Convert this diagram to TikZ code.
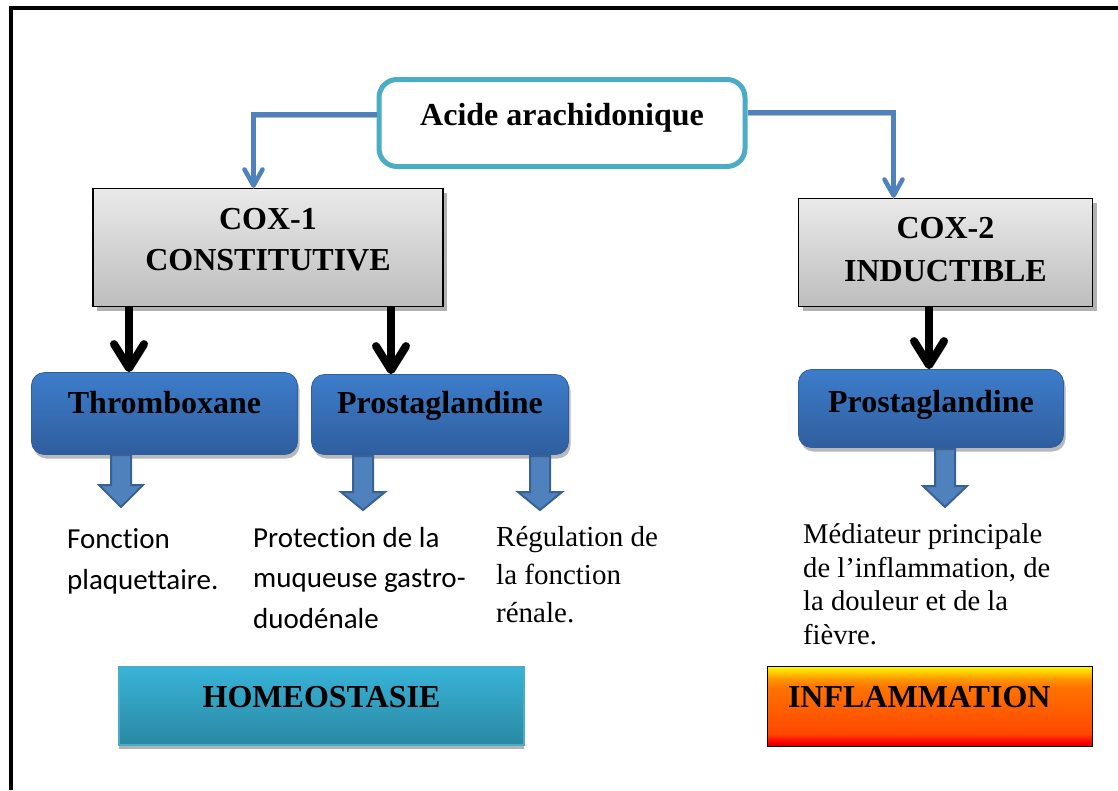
\documentclass[tikz,border=0pt]{standalone}
\usepackage{fontspec}
\setmainfont{Liberation Serif}
\newfontfamily\calibfont[Ligatures=NoCommon]{Carlito}
\usetikzlibrary{arrows.meta,shadows}

\definecolor{cyanedge}{HTML}{4BACC6}
\definecolor{linkblue}{HTML}{4F81BD}
\definecolor{coxtop}{HTML}{EAEAEA}
\definecolor{coxbot}{HTML}{BDBDBD}
\definecolor{pgtop}{HTML}{3D7DCB}
\definecolor{pgbot}{HTML}{2F5E9E}
\definecolor{arrfill}{HTML}{4F81BD}
\definecolor{arredge}{HTML}{3A6194}
\definecolor{homtop}{HTML}{38B4D8}
\definecolor{hombot}{HTML}{2A88A2}

% yellow -> orange -> red, top to bottom
\pgfdeclareverticalshading{inflamshade}{100bp}{rgb(0bp)=(.8,0,0); rgb(25bp)=(.8,0,0);
  rgb(28bp)=(1,0,0); rgb(33bp)=(1,.28,0); rgb(50bp)=(1,.38,0); rgb(62bp)=(1,.45,0);
  rgb(67bp)=(1,.58,0); rgb(71bp)=(1,.78,0); rgb(75bp)=(1,.97,0); rgb(100bp)=(1,.97,0)}

\begin{document}
\begin{tikzpicture}[x=1pt,y=-1pt,
  acidebox/.style={draw=cyanedge, line width=5pt, rounded corners=18pt, fill=white,
    minimum width=366pt, minimum height=87pt, font=\bfseries\fontsize{32}{40}\selectfont,
    text height=22pt, text depth=18pt},
  coxbox/.style={draw=black, line width=1.5pt, top color=coxtop, bottom color=coxbot,
    align=center, font=\bfseries\fontsize{32}{41}\selectfont,
    drop shadow={shadow xshift=4pt, shadow yshift=-4pt, fill=gray!60, opacity=1}},
  pgbox/.style={draw=pgbot, line width=.8pt, rounded corners=13pt, top color=pgtop,
    bottom color=pgbot, font=\bfseries\fontsize{32}{40}\selectfont, text height=22pt,
    drop shadow={shadow xshift=2pt, shadow yshift=-4pt, fill=gray!55, opacity=1}},
  endbox/.style={font=\bfseries\fontsize{32}{40}\selectfont, text height=22pt},
  note/.style={anchor=base west, align=left, inner sep=0pt},
  link/.style={draw=linkblue, line width=4.5pt, -{Straight Barb[length=16pt,width=18pt,round]},
    preaction={draw=gray!55, transform canvas={yshift=-3pt}}},
  blk/.style={draw=black, line width=8pt, -{Straight Barb[length=24pt,width=30pt,round]},
    preaction={draw=gray!60, transform canvas={shift={(3pt,-3pt)}}}},
  blockarr/.style={fill=arrfill, draw=arredge, line width=2pt}]
\useasboundingbox (0,0) rectangle (1118,790);
\draw[line width=4.5pt] (11,790) -- (11,8) -- (1118,8);

\node[acidebox] (acide) at (562,123) {Acide arachidonique};
\node[coxbox, minimum width=350pt, minimum height=118pt, text depth=16pt] (cox1) at (268,247.5) {COX-1\\CONSTITUTIVE};
\node[coxbox, minimum width=294pt, minimum height=108pt, text depth=7pt,
  font=\bfseries\fontsize{32}{43}\selectfont] (cox2) at (945.5,252.5) {COX-2\\INDUCTIBLE};

\node[pgbox, minimum width=266pt, minimum height=82pt, text depth=23pt] (thrombo) at (164.5,413.5) {Thromboxane};
\node[pgbox, minimum width=257pt, minimum height=80pt, text depth=25pt] (pg1) at (440,414.5) {Prostaglandine};
\node[pgbox, minimum width=265pt, minimum height=78pt, text depth=15pt] (pg2) at (931,408.5) {Prostaglandine};

% the base of each note is its last line
\node[note, font=\calibfont\fontsize{29}{41}\selectfont] (fonct) at (67,589) {Fonction\\plaquettaire.};
\node[note, font=\calibfont\fontsize{29}{40.5}\selectfont] (protec) at (253,628) {Protection de la\\muqueuse gastro-\\duodénale};
\node[note, font=\fontsize{29}{38}\selectfont] (regul) at (496,622) {Régulation de\\la fonction\\rénale.};
\node[note, font=\fontsize{28.6}{33.5}\selectfont] (media) at (803,644) {Médiateur principale\\de l’inflammation, de\\la douleur et de la\\fièvre.};

\node[endbox, draw=cyanedge, line width=2pt, top color=homtop, bottom color=hombot,
  minimum width=405pt, minimum height=78pt, text depth=20pt,
  drop shadow={shadow xshift=0pt, shadow yshift=-4pt, fill=gray!60, opacity=1}] (homeo) at (321.5,706) {HOMEOSTASIE};
\node[endbox, draw=black, line width=1.5pt, shading=inflamshade, minimum width=325pt,
  minimum height=80pt, text width=284pt, inner xsep=20pt, align=left, text depth=21pt] (inflam) at (930,706.5) {INFLAMMATION};

% enzymes
\draw[link] (acide.west |- 0,114.5) -| (cox1.north -| 253.5,0);
\draw[link] (acide.east |- 0,112.5) -| (cox2.north -| 893.5,0);

% products
\draw[blk] (cox1.south -| 129,0) -- (thrombo.north -| 129,0);
\draw[blk] (cox1.south -| 391,0) -- (pg1.north -| 391,0);
\draw[blk] (cox2.south -| 929,0) -- (pg2.north -| 929,0);

% effects
\foreach \x/\ya/\yb/\yc in {121/455/485/507, 363/456/492/510, 540/456/492/510, 945/449/486/507}
  \draw[blockarr] (\x-10,\ya) -- (\x-10,\yb) -- (\x-22,\yb) -- (\x,\yc) -- (\x+22,\yb)
    -- (\x+10,\yb) -- (\x+10,\ya) -- cycle;
\end{tikzpicture}
\end{document}
